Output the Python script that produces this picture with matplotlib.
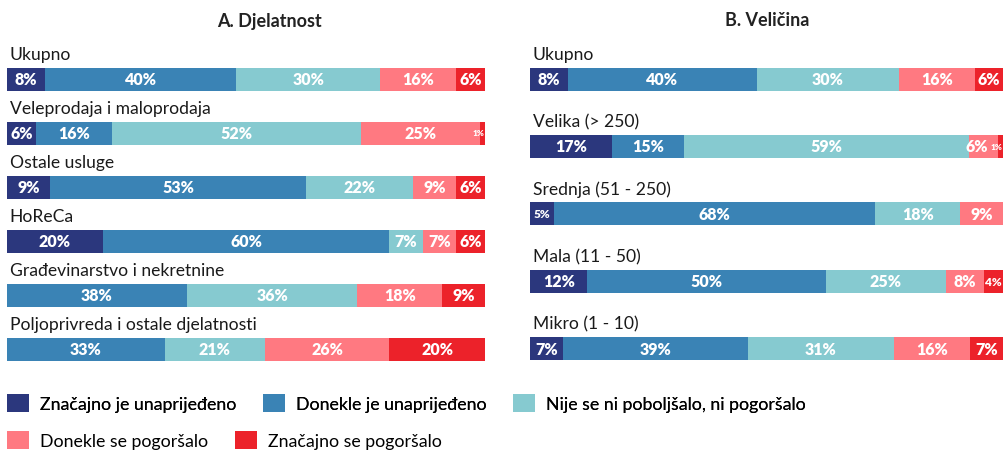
import numpy as np
import matplotlib.pyplot as plt
from matplotlib.patches import Patch

plt.rcParams["font.family"] = ["Lato", "DejaVu Sans"]

# legend / series names
series_names = [
    "Značajno je unaprijeđeno",
    "Donekle je unaprijeđeno",
    "Nije se ni poboljšalo, ni pogoršalo",
    "Donekle se pogoršalo",
    "Značajno se pogoršalo",
]
colors = ["#2b377d", "#3a83b5", "#86cad0", "#ff7981", "#ec222a"]

# panel A: by activity
cats_A = [
    "Ukupno",
    "Veleprodaja i maloprodaja",
    "Ostale usluge",
    "HoReCa",
    "Građevinarstvo i nekretnine",
    "Poljoprivreda i ostale djelatnosti",
]
sig_up_A = [8, 6, 9, 20, 0, 0]
some_up_A = [40, 16, 53, 60, 38, 33]
same_A = [30, 52, 22, 7, 36, 21]
some_down_A = [16, 25, 9, 7, 18, 26]
sig_down_A = [6, 1, 6, 6, 9, 20]

# panel B: by size
cats_B = [
    "Ukupno",
    "Velika (> 250)",
    "Srednja (51 - 250)",
    "Mala (11 - 50)",
    "Mikro (1 - 10)",
]
sig_up_B = [8, 17, 5, 12, 7]
some_up_B = [40, 15, 68, 50, 39]
same_B = [30, 59, 18, 25, 31]
some_down_B = [16, 6, 9, 8, 16]
sig_down_B = [6, 1, 0, 4, 7]


def label_size(v):
    if v <= 1:
        return 6
    if v <= 5:
        return 8.5
    return 11.5


def draw_panel(ax, cats, series, spacing_px, top_px=40, bottom_px=375, bar_px=23):
    vals = np.array(series, dtype=float)
    totals = vals.sum(axis=0)
    widths = vals / totals * 100
    n = len(series)
    y = np.arange(len(cats))
    first = 80
    ax.set_ylim((bottom_px - first) / spacing_px, (top_px - first) / spacing_px)
    ax.set_xlim(0, 100)
    h = bar_px / spacing_px
    left = np.zeros(len(cats))
    for k in range(n):
        bars = ax.barh(y, widths[k], left=left, height=h, color=colors[k], linewidth=0)
        for i, (b, v) in enumerate(zip(bars, vals[k])):
            if v == 0:
                continue
            x, ha, dx = b.get_x() + b.get_width() / 2, "center", 0
            # a tiny last segment: push its label (and a narrow neighbour's) to the right end
            tiny_end = 0 < widths[-1][i] < 2
            if tiny_end and k == n - 1:
                x, ha, dx = 100, "right", -0.5
            elif tiny_end and k == n - 2 and widths[k][i] < 8:
                x, ha, dx = 100, "right", -10.5
            ax.annotate(f"{int(v)}%", (x, b.get_y() + b.get_height() / 2),
                        xytext=(dx, 0), textcoords="offset points",
                        ha=ha, va="center", color="white",
                        fontweight="heavy", fontsize=label_size(v))
        left += widths[k]
    for i, c in enumerate(cats):
        ax.annotate(c, (0, i), xytext=(2, 18), textcoords="offset points",
                    ha="left", va="center", fontsize=12.6, color="#1a1a1a")
    ax.axis("off")


fig = plt.figure(figsize=(10.04, 4.52), dpi=100)
W, H = 1004, 452

axA = fig.add_axes([7 / W, 1 - 375 / H, (485 - 7) / W, 335 / H])
draw_panel(axA, cats_A, [sig_up_A, some_up_A, same_A, some_down_A, sig_down_A], 54)

axB = fig.add_axes([530 / W, 1 - 375 / H, (1003 - 530) / W, 335 / H])
draw_panel(axB, cats_B, [sig_up_B, some_up_B, same_B, some_down_B, sig_down_B], 67.4)

fig.text(269 / W, 1 - 21 / H, "A. Djelatnost", ha="center", va="center",
         fontsize=13, fontweight="bold", color="#222222")
fig.text(767 / W, 1 - 21 / H, "B. Veličina", ha="center", va="center",
         fontsize=13, fontweight="bold", color="#222222")

handles = [Patch(facecolor=c, edgecolor="none") for c in colors]
leg_kw = dict(frameon=False, fontsize=12.8, handlelength=1.25, handleheight=1.25,
              handletextpad=0.6, columnspacing=1.5, borderpad=0, borderaxespad=0,
              loc="center left")
leg1 = fig.legend(handles[:3], series_names[:3], ncol=3,
                  bbox_to_anchor=(7 / W, 1 - 404 / H), **leg_kw)
fig.add_artist(leg1)
fig.legend(handles[3:], series_names[3:], ncol=2,
           bbox_to_anchor=(7 / W, 1 - 441 / H), **leg_kw)

fig.savefig("out.png", dpi=100)
